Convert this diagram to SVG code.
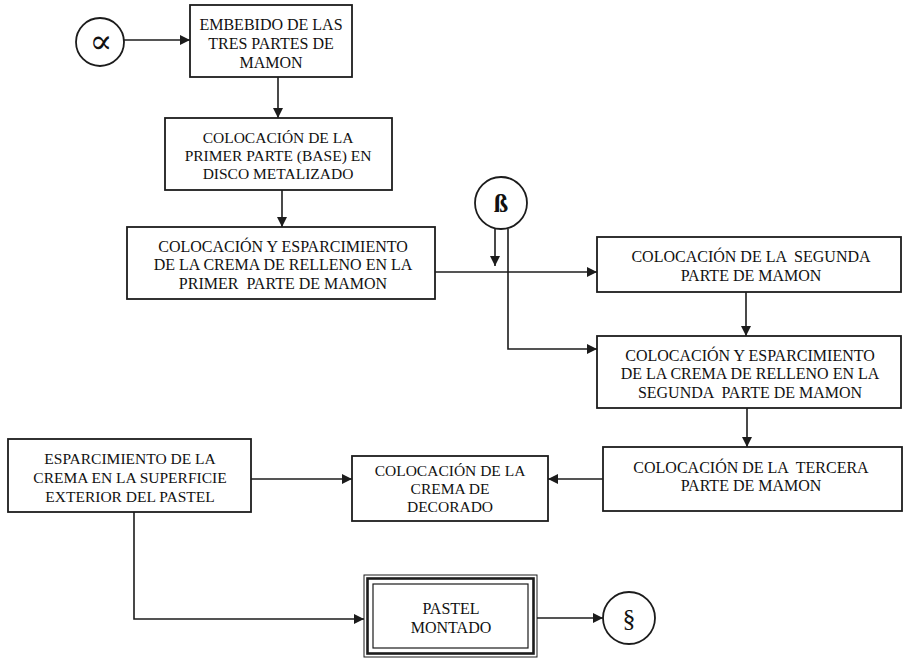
<svg xmlns="http://www.w3.org/2000/svg" width="903" height="660" viewBox="0 0 903 660">
  <style>
    .box { fill: #ffffff; stroke: #1c1c1c; stroke-width: 1.8; }
    .conn { fill: none; stroke: #1c1c1c; stroke-width: 1.6; }
    .lbl { font-family: "Liberation Serif", "Times New Roman", serif; font-size: 16px; fill: #111111; text-anchor: middle; white-space: pre; }
    .sm { font-size: 15.5px; }
    .sym { font-family: "Liberation Serif", "DejaVu Serif", serif; fill: #111111; text-anchor: middle; }
  </style>
  <defs>
    <marker id="arrow" viewBox="0 0 10 10" refX="10" refY="5" markerWidth="11" markerHeight="10" markerUnits="userSpaceOnUse" orient="auto">
      <path d="M0,0 L10,5 L0,10 z" fill="#1c1c1c"/>
    </marker>
  </defs>
  <rect width="903" height="660" fill="#ffffff"/>

  <!-- connectors -->
  <g id="connectors">
    <line class="conn" x1="124" y1="40" x2="190" y2="40" marker-end="url(#arrow)"/>
    <line class="conn" x1="278" y1="77" x2="278" y2="118" marker-end="url(#arrow)"/>
    <line class="conn" x1="282" y1="190" x2="282" y2="227" marker-end="url(#arrow)"/>
    <line class="conn" x1="435" y1="272" x2="597" y2="272" marker-end="url(#arrow)"/>
    <line class="conn" x1="495" y1="229" x2="495" y2="266" marker-end="url(#arrow)"/>
    <polyline class="conn" points="508,229 508,349 597,349" marker-end="url(#arrow)"/>
    <line class="conn" x1="746" y1="292" x2="746" y2="336" marker-end="url(#arrow)"/>
    <line class="conn" x1="747" y1="408" x2="747" y2="447" marker-end="url(#arrow)"/>
    <line class="conn" x1="603" y1="479" x2="548" y2="479" marker-end="url(#arrow)"/>
    <line class="conn" x1="251" y1="479" x2="352" y2="479" marker-end="url(#arrow)"/>
    <polyline class="conn" points="134,512 134,619 364,619" marker-end="url(#arrow)"/>
    <line class="conn" x1="537" y1="618" x2="603" y2="618" marker-end="url(#arrow)"/>
  </g>

  <!-- connector circles -->
  <g id="alpha">
    <circle class="box" cx="100" cy="42" r="24"/>
    <text class="sym" x="101" y="53" font-size="34">∝</text>
  </g>
  <g id="beta">
    <circle class="box" cx="501" cy="203" r="26"/>
    <text class="sym" x="501" y="212" font-size="26" font-weight="bold">ß</text>
  </g>
  <g id="section">
    <circle class="box" cx="629" cy="618" r="26"/>
    <text class="sym" x="629" y="627" font-size="26">§</text>
  </g>

  <!-- process steps -->
  <g id="embebido">
    <rect class="box" x="190" y="5" width="162" height="72"/>
    <text class="lbl" x="271" y="30">EMBEBIDO DE LAS</text>
    <text class="lbl" x="271" y="49">TRES PARTES DE</text>
    <text class="lbl" x="271" y="68">MAMON</text>
  </g>
  <g id="base">
    <rect class="box" x="165" y="118" width="227" height="72"/>
    <text class="lbl sm" x="278" y="143">COLOCACIÓN DE LA</text>
    <text class="lbl sm" x="278" y="161">PRIMER PARTE (BASE) EN</text>
    <text class="lbl sm" x="278" y="179">DISCO METALIZADO</text>
  </g>
  <g id="relleno1">
    <rect class="box" x="127" y="227" width="308" height="72"/>
    <text class="lbl" x="283" y="252">COLOCACIÓN Y ESPARCIMIENTO</text>
    <text class="lbl" x="283" y="270">DE LA CREMA DE RELLENO EN LA</text>
    <text class="lbl" x="283" y="289" xml:space="preserve">PRIMER  PARTE DE MAMON</text>
  </g>
  <g id="segunda">
    <rect class="box" x="597" y="237" width="304" height="55"/>
    <text class="lbl" x="751" y="262" xml:space="preserve">COLOCACIÓN DE LA  SEGUNDA</text>
    <text class="lbl" x="751" y="281">PARTE DE MAMON</text>
  </g>
  <g id="relleno2">
    <rect class="box" x="597" y="336" width="304" height="72"/>
    <text class="lbl" x="750" y="361">COLOCACIÓN Y ESPARCIMIENTO</text>
    <text class="lbl" x="750" y="379">DE LA CREMA DE RELLENO EN LA</text>
    <text class="lbl" x="750" y="398" xml:space="preserve">SEGUNDA  PARTE DE MAMON</text>
  </g>
  <g id="tercera">
    <rect class="box" x="603" y="447" width="299" height="64"/>
    <text class="lbl" x="751" y="473" xml:space="preserve">COLOCACIÓN DE LA  TERCERA</text>
    <text class="lbl" x="751" y="491">PARTE DE MAMON</text>
  </g>
  <g id="decorado">
    <rect class="box" x="352" y="456" width="196" height="65"/>
    <text class="lbl sm" x="450" y="476">COLOCACIÓN DE LA</text>
    <text class="lbl sm" x="450" y="494">CREMA DE</text>
    <text class="lbl sm" x="450" y="512">DECORADO</text>
  </g>
  <g id="superficie">
    <rect class="box" x="8" y="439" width="243" height="73"/>
    <text class="lbl sm" x="130" y="464">ESPARCIMIENTO DE LA</text>
    <text class="lbl sm" x="130" y="483">CREMA EN LA SUPERFICIE</text>
    <text class="lbl sm" x="130" y="502">EXTERIOR DEL PASTEL</text>
  </g>
  <g id="pastel">
    <rect x="364" y="575" width="173" height="82" fill="#ffffff" stroke="#1c1c1c" stroke-width="1"/>
    <rect x="367.5" y="578.5" width="166" height="75" fill="none" stroke="#1c1c1c" stroke-width="2.6"/>
    <rect x="373" y="584" width="155" height="64" fill="none" stroke="#1c1c1c" stroke-width="1.2"/>
    <text class="lbl" x="451" y="614">PASTEL</text>
    <text class="lbl" x="451" y="633">MONTADO</text>
  </g>
</svg>
